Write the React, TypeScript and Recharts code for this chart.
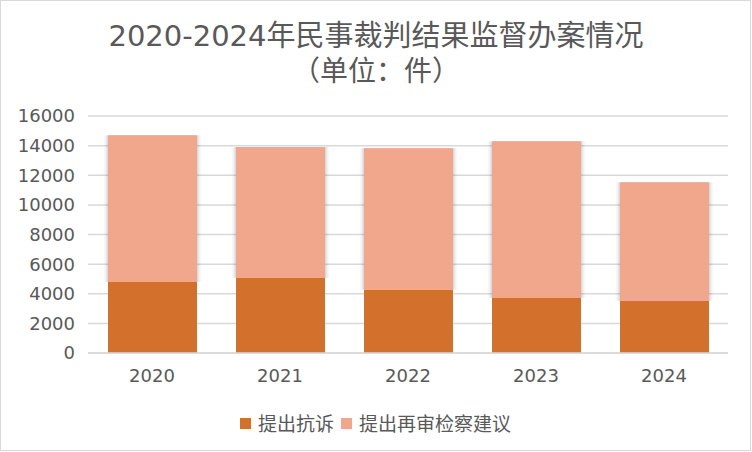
import { Bar, BarChart, CartesianGrid, Rectangle, XAxis, YAxis } from "recharts";

const years = ["2020", "2021", "2022", "2023", "2024"];
const protestCases = [4787, 5056, 4270, 3708, 3506];
const retrialSuggestions = [9910, 8855, 9551, 10585, 8023];
const yTicks = [0, 2000, 4000, 6000, 8000, 10000, 12000, 14000, 16000];

const SERIES = [
  { key: "protest", name: "提出抗诉", color: "#d3702c" },
  { key: "retrial", name: "提出再审检察建议", color: "#f0a78c" },
];

const FONT = "'DejaVu Sans', 'Noto Sans CJK SC', sans-serif";
const CJK = "'Noto Sans CJK SC', sans-serif";
const TEXT = "#595959";

const data = years.map((year, i) => ({
  year,
  protest: protestCases[i],
  retrial: retrialSuggestions[i],
}));

export default function App() {
  return (
    <div
      style={{
        position: "fixed",
        left: 0,
        top: 0,
        width: 751,
        height: 451,
        border: "1px solid #d9d9d9",
        boxSizing: "border-box",
        background: "#fff",
        fontFamily: FONT,
      }}
    >
      <svg width={0} height={0} style={{ position: "absolute" }}>
        <defs>
          {/* side-only soft shadow, like the Excel outer shadow on the light series */}
          <filter id="barShadow" x="-20%" y="-5%" width="140%" height="110%">
            <feGaussianBlur in="SourceAlpha" stdDeviation="2.5 0.3" result="blur" />
            <feComponentTransfer in="blur" result="shadow">
              <feFuncA type="linear" slope="0.35" />
            </feComponentTransfer>
            <feMerge>
              <feMergeNode in="shadow" />
              <feMergeNode in="SourceGraphic" />
            </feMerge>
          </filter>
        </defs>
      </svg>

      <svg width={752} height={100} style={{ position: "absolute", left: -1, top: 0 }}>
        <text x={376} y={45} textAnchor="middle" fontSize={29} fill={TEXT} fontFamily={FONT}>
          2020-2024年民事裁判结果监督办案情况
        </text>
        <text x={376} y={80} textAnchor="middle" fontSize={28} fill={TEXT} fontFamily={CJK}>
          （单位：件）
        </text>
      </svg>

      <div style={{ position: "absolute", left: -1, top: 0 }}>
        <BarChart width={752} height={452} data={data} margin={{ top: 115, right: 24, bottom: 70, left: 10 }}>
          <CartesianGrid vertical={false} stroke="#d9d9d9" strokeWidth={1.5} />
          <XAxis
            dataKey="year"
            axisLine={{ stroke: "#d9d9d9", strokeWidth: 1.5 }}
            tickLine={false}
            tickMargin={10}
            tick={{ fill: TEXT, fontSize: 18, fontFamily: FONT }}
          />
          <YAxis
            width={78}
            domain={[0, 16000]}
            ticks={yTicks}
            axisLine={false}
            tickLine={false}
            tickMargin={7}
            tick={{ fill: TEXT, fontSize: 18, fontFamily: FONT }}
          />
          <Bar dataKey="protest" name={SERIES[0].name} stackId="a" fill={SERIES[0].color} barSize={89} isAnimationActive={false} />
          <Bar
            dataKey="retrial"
            name={SERIES[1].name}
            stackId="a"
            fill={SERIES[1].color}
            barSize={89}
            isAnimationActive={false}
            shape={(props: any) => <Rectangle {...props} filter="url(#barShadow)" />}
          />
        </BarChart>
      </div>

      <div
        style={{
          position: "absolute",
          left: 0,
          right: 0,
          top: 408,
          display: "flex",
          justifyContent: "center",
          alignItems: "center",
          fontSize: 19,
          fontFamily: CJK,
          color: TEXT,
          lineHeight: "28px",
        }}
      >
        {SERIES.map((s, i) => (
          <div key={s.key} style={{ display: "flex", alignItems: "center", marginLeft: i ? 7 : 0 }}>
            <span style={{ width: 11, height: 11, background: s.color, marginRight: 7, display: "inline-block" }} />
            <span>{s.name}</span>
          </div>
        ))}
      </div>
    </div>
  );
}
